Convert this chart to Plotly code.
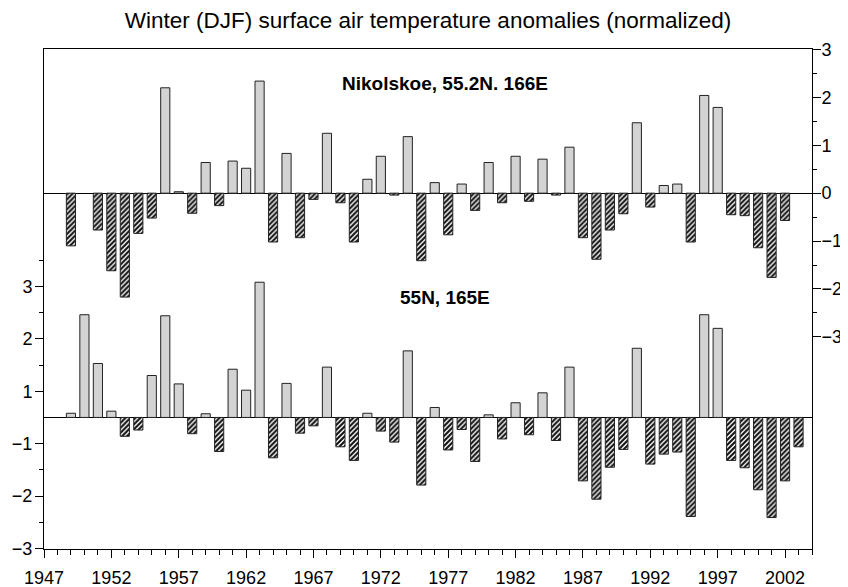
import plotly.graph_objects as go

# ---------------- data ----------------
years_top = list(range(1949, 2003))
nikolskoe = [
    -1.10, 0.00, -0.77, -1.62, -2.17, -0.84, -0.52, 2.20, 0.03, -0.42,
    0.64, -0.26, 0.67, 0.52, 2.34, -1.02, 0.83, -0.93, -0.13, 1.25,
    -0.20, -1.02, 0.29, 0.77, -0.04, 1.18, -1.41, 0.22, -0.87, 0.19,
    -0.36, 0.64, -0.20, 0.77, -0.17, 0.71, -0.04, 0.96, -0.93, -1.38,
    -0.77, -0.43, 1.47, -0.29, 0.16, 0.19, -1.02, 2.04, 1.79, -0.45,
    -0.47, -1.14, -1.76, -0.57,
]

years_bot = list(range(1949, 2004))
grid_55n = [
    0.08, 1.96, 1.03, 0.12, -0.36, -0.24, 0.80, 1.94, 0.64, -0.31,
    0.07, -0.65, 0.92, 0.52, 2.58, -0.77, 0.65, -0.30, -0.16, 0.96,
    -0.56, -0.82, 0.08, -0.26, -0.47, 1.27, -1.29, 0.19, -0.62, -0.23,
    -0.84, 0.05, -0.41, 0.28, -0.33, 0.47, -0.44, 0.96, -1.21, -1.56,
    -0.95, -0.61, 1.32, -0.89, -0.70, -0.66, -1.89, 1.96, 1.70, -0.82,
    -0.96, -1.38, -1.91, -1.21, -0.56,
]

x_tick_labels = ["1947", "1952", "1957", "1962", "1967", "1972",
                 "1977", "1982", "1987", "1992", "1997", "2002"]
left_tick_labels = ["3", "2", "1", "\u22121", "\u22122", "\u22123"]
right_tick_labels = ["3", "2", "1", "0", "\u22121", "\u22122", "\u22123"]

title_text = "Winter (DJF) surface air temperature anomalies (normalized)"
label_top = "Nikolskoe, 55.2N. 166E"
label_bot = "55N, 165E"

# ---------------- styling ----------------
FONT = "Liberation Sans, Arial, Helvetica, sans-serif"
POS_FILL = "#d3d3d3"
EDGE = "#222222"
BAR_W = 0.68
FIG_W, FIG_H = 840, 579   # page body adds an 8px offset


def split(vals):
    pos = [v if v > 0 else None for v in vals]
    neg = [v if v < 0 else None for v in vals]
    return pos, neg


fig = go.Figure()

for yrs, vals, yax in [(years_top, nikolskoe, "y2"), (years_bot, grid_55n, "y")]:
    pos, neg = split(vals)
    fig.add_trace(go.Bar(
        x=yrs, y=pos, yaxis=yax, width=BAR_W,
        marker=dict(color=POS_FILL, line=dict(color=EDGE, width=1)),
        showlegend=False, hoverinfo="x+y",
    ))
    fig.add_trace(go.Bar(
        x=yrs, y=neg, yaxis=yax, width=BAR_W,
        marker=dict(color="white", line=dict(color=EDGE, width=1),
                    pattern=dict(shape="/", fgcolor="#111111", bgcolor="white",
                                 size=3.5, solidity=0.6)),
        showlegend=False, hoverinfo="x+y",
    ))

x_tickvals = [int(t) for t in x_tick_labels]

fig.update_layout(
    template="none",
    width=FIG_W, height=FIG_H,
    margin=dict(l=35.5, r=36.3, t=41, b=38, autoexpand=False),
    paper_bgcolor="white", plot_bgcolor="white",
    barmode="overlay",
    font=dict(family=FONT, color="black", size=18),
    title=dict(text=title_text, x=0.5, xanchor="center", y=1 - 12 / FIG_H,
               yanchor="middle", font=dict(size=22.5, family=FONT, color="black")),
    xaxis=dict(
        range=[1947, 2004], tickvals=x_tickvals, ticktext=x_tick_labels,
        automargin=False,
        ticks="outside", ticklen=8, tickwidth=1, tickcolor="black",
        showline=True, linecolor="black", linewidth=1, mirror=True,
        showgrid=False, zeroline=False, ticklabelstandoff=4,
        minor=dict(dtick=1, tick0=1947, ticks="outside", ticklen=5,
                   tickwidth=1, tickcolor="black", showgrid=False),
        tickfont=dict(size=18),
    ),
    yaxis=dict(
        range=[-2.51, 7.03], automargin=False,
        tickvals=[2.5, 1.5, 0.5, -0.5, -1.5, -2.5], ticktext=left_tick_labels,
        ticks="outside", ticklen=8, tickwidth=1, tickcolor="black",
        showline=True, linecolor="black", linewidth=1, mirror=True,
        showgrid=False, zeroline=True, zerolinecolor="black", zerolinewidth=1,
        ticklabelstandoff=-1,
        minor=dict(tickvals=[3.0, 2.0, 1.0, -1.0, -2.0], ticks="outside",
                   ticklen=4, tickwidth=1, tickcolor="black", showgrid=False),
        tickfont=dict(size=18),
    ),
    yaxis2=dict(
        range=[-7.43, 3.01], overlaying="y", side="right", automargin=False,
        tickvals=[3, 2, 1, 0, -1, -2, -3], ticktext=right_tick_labels,
        ticks="outside", ticklen=8, tickwidth=1, tickcolor="black",
        showline=True, linecolor="black", linewidth=1,
        showgrid=False, zeroline=True, zerolinecolor="black", zerolinewidth=1,
        ticklabelstandoff=-3,
        minor=dict(tickvals=[2.5, 1.5, 0.5, -0.5, -1.5, -2.5], ticks="outside",
                   ticklen=4, tickwidth=1, tickcolor="black", showgrid=False),
        tickfont=dict(size=18),
    ),
    annotations=[
        dict(text="<b>" + label_top + "</b>", xref="paper", yref="y2",
             x=0.5226, y=2.30, showarrow=False,
             font=dict(size=19, family=FONT, color="black")),
        dict(text="<b>" + label_bot + "</b>", xref="paper", yref="y",
             x=0.5226, y=2.28, showarrow=False,
             font=dict(size=19, family=FONT, color="black")),
    ],
)

fig.write_html("out.html")
